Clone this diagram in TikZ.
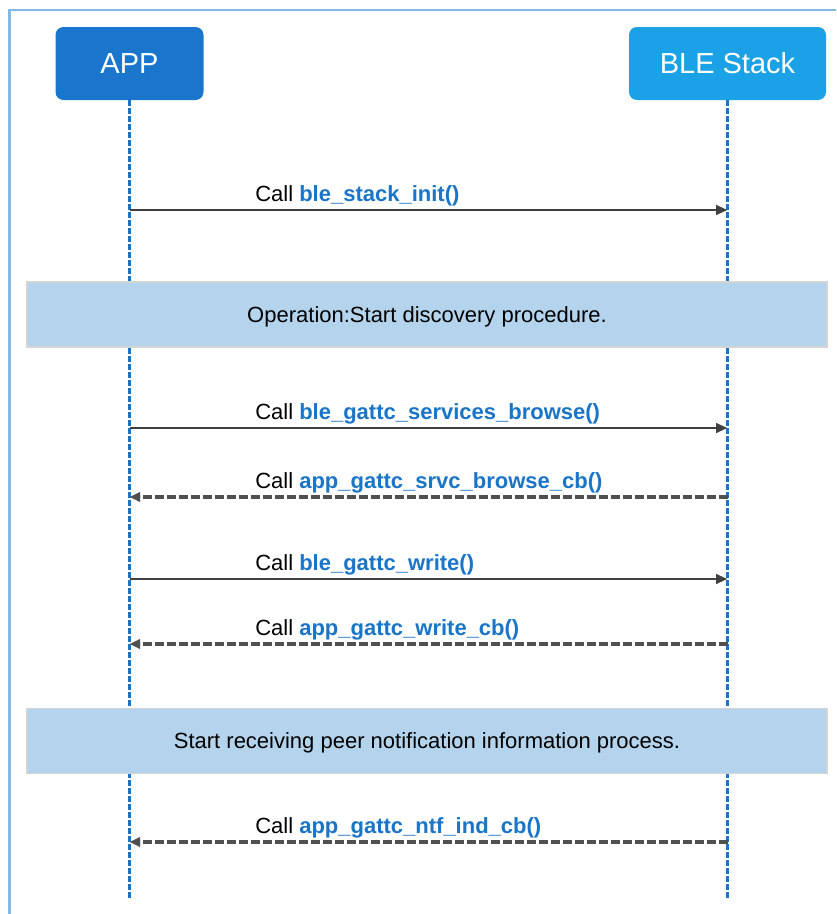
\documentclass[tikz,border=0pt]{standalone}
\usepackage{fontspec}
\setmainfont{Liberation Sans}
\usetikzlibrary{arrows.meta}
\definecolor{appblue}{HTML}{1A75CC}
\definecolor{stackblue}{HTML}{1BA1E6}
\definecolor{lifeblue}{HTML}{1A75C8}
\definecolor{fnblue}{HTML}{1A75C8}
\definecolor{bandfill}{HTML}{B3D4EC}
\definecolor{bandedge}{HTML}{D4D4D4}
\definecolor{framecol}{HTML}{82BAE3}
\definecolor{callgray}{HTML}{404040}
\definecolor{retgray}{HTML}{505050}
\newcommand{\fn}[1]{\textbf{\color{fnblue}#1}}
\begin{document}
\begin{tikzpicture}[x=0.75pt,y=-0.75pt,
  actor/.style={rounded corners=6pt, text=white, inner sep=0pt,
    minimum height=54.75pt, font=\fontsize{21.75}{24}\selectfont},
  lifeline/.style={draw=lifeblue, line width=2pt, dash pattern=on 4.5pt off 1.5pt},
  band/.style={fill=bandfill, draw=bandedge, line width=1.1pt, inner sep=0pt,
    minimum width=600pt, minimum height=48.75pt, text depth=0pt,
    font=\fontsize{16.5}{19}\selectfont},
  lbl/.style={anchor=base west, inner sep=0pt, font=\fontsize{16.5}{19}\selectfont},
  call/.style={draw=callgray, line width=2.1pt, -{Triangle[length=8.5pt,width=7pt]}},
  ret/.style={draw=retgray, line width=2.6pt, dash pattern=on 6.75pt off 2.25pt,
    -{Triangle[length=8pt,width=7pt]}}]
\useasboundingbox (0,0) rectangle (836,914);
\fill[white] (0,0) rectangle (836,914);

% outer frame (open to the right and bottom)
\draw[framecol, line width=1.8pt] (9.5,914) -- (9.5,10) -- (836,10);

% participants
\node[actor, fill=appblue, minimum width=111pt] (app) at (129.5,63.5) {APP};
\node[actor, fill=stackblue, minimum width=147.75pt] (stack) at (727.5,63.5) {BLE Stack};

% lifelines
\coordinate (append) at (129.5,900);
\coordinate (stackend) at (727.5,900);
\draw[lifeline] (app.south) -- (append);
\draw[lifeline] (stack.south) -- (stackend);

% operation bands
\node[band] (op1) at (427,314.5) {Operation:Start discovery procedure.};
\node[band] (op2) at (427,741) {Start receiving peer notification information process.};

% message end points on the lifelines
\coordinate (a1) at (129.5,210); \coordinate (b1) at (727.5,210);
\coordinate (a2) at (129.5,428); \coordinate (b2) at (727.5,428);
\coordinate (a3) at (129.5,497); \coordinate (b3) at (727.5,497);
\coordinate (a4) at (129.5,579); \coordinate (b4) at (727.5,579);
\coordinate (a5) at (129.5,644); \coordinate (b5) at (727.5,644);
\coordinate (a6) at (129.5,842); \coordinate (b6) at (727.5,842);

% messages
\draw[call] (a1) -- (b1);
\node[lbl] (l1) at (255,201) {Call \fn{ble\_stack\_init()}};

\draw[call] (a2) -- (b2);
\node[lbl] (l2) at (255,419) {Call \fn{ble\_gattc\_services\_browse()}};

\draw[ret] (b3) -- (a3);
\node[lbl] (l3) at (255,488) {Call \fn{app\_gattc\_srvc\_browse\_cb()}};

\draw[call] (a4) -- (b4);
\node[lbl] (l4) at (255,570) {Call \fn{ble\_gattc\_write()}};

\draw[ret] (b5) -- (a5);
\node[lbl] (l5) at (255,635) {Call \fn{app\_gattc\_write\_cb()}};

\draw[ret] (b6) -- (a6);
\node[lbl] (l6) at (255,833) {Call \fn{app\_gattc\_ntf\_ind\_cb()}};
\end{tikzpicture}
\end{document}
